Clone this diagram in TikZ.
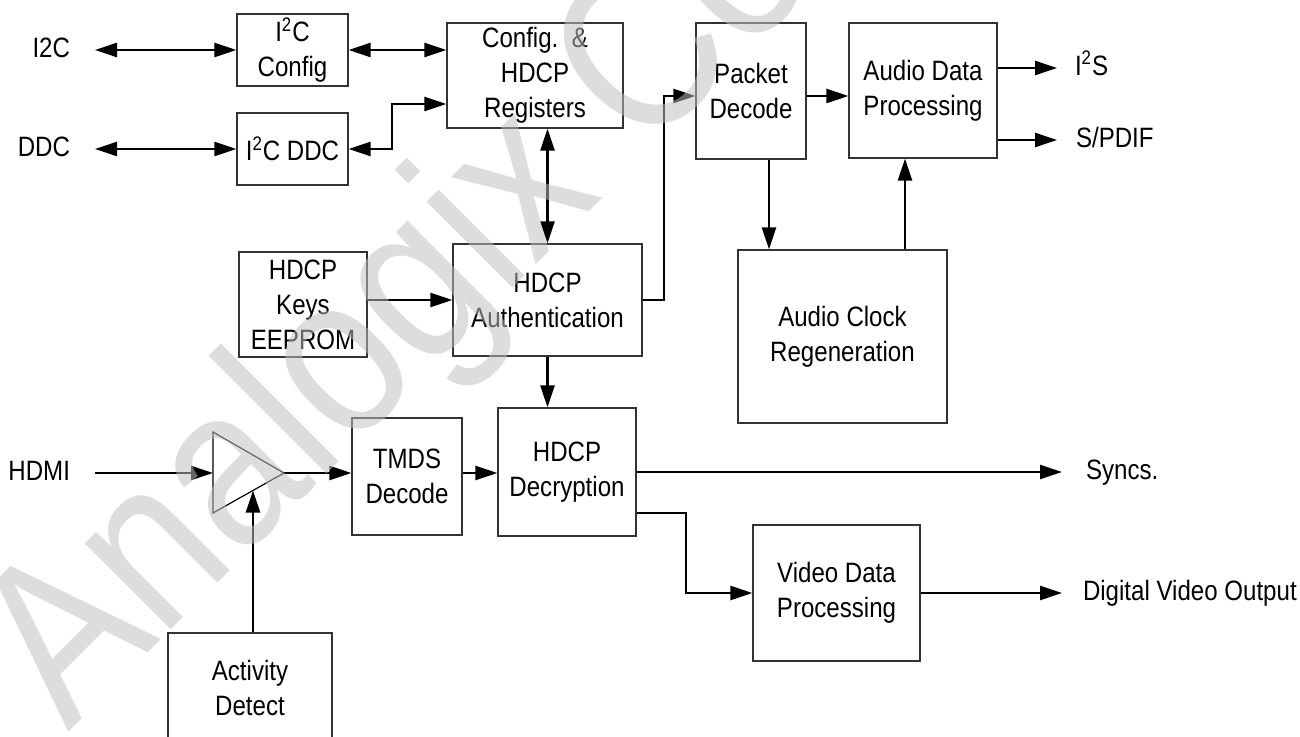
\documentclass[tikz,border=0pt]{standalone}
\usepackage{fontspec}
\setmainfont{Liberation Sans}[FakeStretch=0.86]
\usepackage{tikz}
\usetikzlibrary{positioning, arrows.meta, calc}
\def\raster{0.5pt}
\def\boxfont{\fontsize{14pt}{17.5pt}\selectfont}
\begin{document}
\begin{tikzpicture}[x=\raster, y=-\raster,
    >={Triangle[length=11pt,width=7pt]},
    block/.style={draw=black!80, line width=0.6pt, align=center, inner sep=0pt, font=\boxfont},
    sig/.style={inner sep=0pt, outer sep=0pt, text height=0.72em, text depth=0pt, font=\boxfont},
    wire/.style={line width=1.25pt}]
    \useasboundingbox (0,0) rectangle (1300,737);
    \clip (0,0) rectangle (1300,737);

    % free ends of the wires
    \coordinate (i2cend) at (95,50);
    \coordinate (ddcend) at (95,149);
    \coordinate (hdmiend) at (95,473);
    \coordinate (i2send) at (1057,68);
    \coordinate (spdifend) at (1057,140);
    \coordinate (syncend) at (1062,472);
    \coordinate (dvoend) at (1062,593);
    \coordinate (ddcbend) at (392,104);
    \coordinate (authbend) at (664,96);
    \coordinate (decrbend) at (686,513);

    % blocks
    \node[block, minimum width=111*\raster, minimum height=72*\raster] (i2ccfg) at (292.5,50) {I\textsuperscript{2}C\\Config};
    \node[block, minimum width=111*\raster, minimum height=72*\raster] (i2cddc) at (292.5,149) {I\textsuperscript{2}C DDC};
    \node[block, minimum width=176*\raster, minimum height=105*\raster] (regs) at (535,75.5) {Config.~~\&\\HDCP\\Registers};
    \node[block, minimum width=110*\raster, minimum height=136*\raster] (packet) at (751,91) {Packet\\Decode};
    \node[block, minimum width=148*\raster, minimum height=135*\raster] (audio) at (923,90.5) {Audio Data\\Processing};
    \node[block, minimum width=128*\raster, minimum height=105*\raster] (keys) at (303,304.5) {HDCP\\Keys\\EEPROM};
    \node[block, minimum width=189*\raster, minimum height=112*\raster] (auth) at (547.5,300) {HDCP\\Authentication};
    \node[block, minimum width=209*\raster, minimum height=173*\raster] (clock) at (842.5,336.5) {Audio Clock\\Regeneration};
    \node[block, minimum width=110*\raster, minimum height=117*\raster] (tmds) at (407,476.5) {TMDS\\Decode};
    \node[block, minimum width=138*\raster, minimum height=128*\raster] (decr) at (567,472) {HDCP\\Decryption};
    \node[block, minimum width=167*\raster, minimum height=136*\raster] (video) at (836.5,593) {Video Data\\Processing};
    \node[block, minimum width=164*\raster, minimum height=110*\raster] (activity) at (250,688) {Activity\\Detect};

    % input buffer
    \coordinate (ampin) at (213,473);
    \coordinate (ampout) at (284,473);
    \coordinate (ampbot) at (253,490.5);
    \draw[line width=0.6pt] (213,432) -- (ampout) -- (213,513) -- cycle;

    % signal names
    \node[sig, left=12.5pt of i2cend] (i2c) {I2C};
    \node[sig, left=12.5pt of ddcend] (ddc) {DDC};
    \node[sig, left=12.5pt of hdmiend] (hdmi) {HDMI};
    \node[sig, right=9pt of i2send] (i2s) {I\textsuperscript{2}S};
    \node[sig, right=9.5pt of spdifend] (spdif) {S/PDIF};
    \node[sig, right=12pt of syncend] (syncs) {Syncs.};
    \node[sig, right=10.5pt of dvoend] (dvo) {Digital Video Output};

    % wires
    \draw[wire, <->] (i2cend) -- (i2ccfg);
    \draw[wire, <->] (ddcend) -- (i2cddc);
    \draw[wire, <->] (i2ccfg.east) -- (i2ccfg.east -| regs.west);
    \draw[wire, <->] (i2cddc.east) -| (ddcbend) -- (ddcbend -| regs.west);
    \draw[wire, <->] (auth.north |- regs.south) -- (auth.north);
    \draw[wire, ->] (keys.east |- auth.west) -- (auth.west);
    \draw[wire, ->] (auth.east) -| (authbend) -- (authbend -| packet.west);
    \draw[wire, ->] (authbend -| packet.east) -- (authbend -| audio.west);
    \draw[wire, ->] ([xshift=9pt]packet.south) -- ([xshift=9pt]packet.south |- clock.north);
    \draw[wire, ->] ([xshift=-9pt]audio.south |- clock.north) -- ([xshift=-9pt]audio.south);
    \draw[wire, ->] (audio.east |- i2send) -- (i2send);
    \draw[wire, ->] (audio.east |- spdifend) -- (spdifend);
    \draw[wire, ->] (auth.south) -- (auth.south |- decr.north);
    \draw[wire, ->] (hdmiend) -- (ampin);
    \draw[wire, ->] (ampout) -- (ampout -| tmds.west);
    \draw[wire, ->] (ampout -| tmds.east) -- (ampout -| decr.west);
    \draw[wire, ->] (decr.east |- syncend) -- (syncend);
    \draw[wire, ->] (decr.east |- decrbend) -- (decrbend) |- (video.west);
    \draw[wire, ->] (video.east) -- (dvoend);
    \draw[wire, ->] (activity.north -| ampbot) -- (ampbot);

    % watermark
    \node[anchor=base west, rotate=45, inner sep=0pt, text=black!25, opacity=0.53,
        font=\fontsize{115pt}{115pt}\selectfont] (mark) at (68,733) {Analogix Co};
\end{tikzpicture}
\end{document}
